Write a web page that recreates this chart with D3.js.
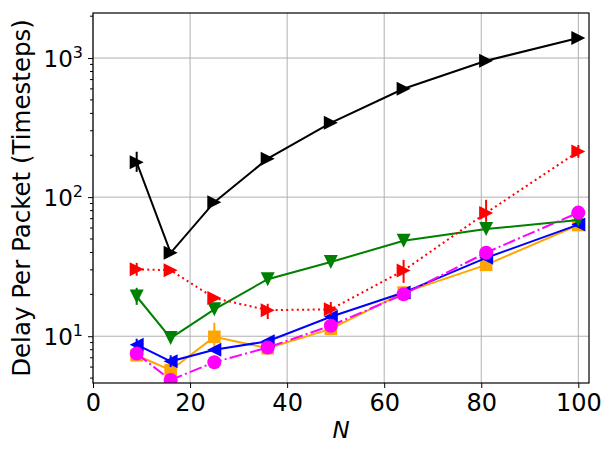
<!DOCTYPE html>
<html lang="en">
<head>
    <meta charset="UTF-8">
    <title>Delay Per Packet vs N</title>
    <script src="https://d3js.org/d3.v7.min.js"></script>
    <style>
        body { margin: 0; background: #fff; }
        text { font-family: "DejaVu Sans", sans-serif; fill: #000; }
        .grid line { stroke: #b0b0b0; stroke-width: 1; }
    </style>
</head>
<body>
    <svg id="chart" width="613" height="456"></svg>
    <script>
        // Data
        const nValues = [9, 16, 25, 36, 49, 64, 81, 100];

        const blackVals   = [178, 39.8, 92, 189, 342, 601, 956, 1393];
        const redVals     = [30.3, 29.8, 18.8, 15.4, 15.6, 29.7, 77, 213];
        const greenVals   = [19.3, 9.7, 15.6, 25.7, 34.2, 48.5, 58.9, 68.5];
        const orangeVals  = [7.3, 5.7, 9.9, 8.2, 11.3, 20.6, 32.6, 63];
        const blueVals    = [8.7, 6.6, 8.0, 9.2, 13.8, 20.6, 36.6, 63.5];
        const magentaVals = [7.5, 4.85, 6.5, 8.3, 11.9, 20.0, 39.9, 77.4];

        // error bars as [low, high], null where none visible
        const blackErr   = [[152, 212], null, null, null, null, null, null, null];
        const redErr     = [[27.2, 33.7], null, null, [13.3, 17.1], [14.2, 17.6], [24.2, 35.4], [66.4, 95.6], [192, 237]];
        const greenErr   = [[16.8, 22.3], null, null, null, null, null, null, null];
        const orangeErr  = [null, null, [7.8, 12.5], null, null, null, null, null];
        const blueErr    = [[7.9, 9.6], [6.0, 7.3], null, null, null, null, null, null];
        const magentaErr = [null, null, null, null, null, null, null, null];

        const xTicks = [0, 20, 40, 60, 80, 100];
        const yTicks = [10, 100, 1000];

        const series = [
            { vals: orangeVals,  err: orangeErr,  color: "orange",  marker: "square", dash: null },
            { vals: blueVals,    err: blueErr,    color: "blue",    marker: "left",   dash: null },
            { vals: greenVals,   err: greenErr,   color: "green",   marker: "down",   dash: null },
            { vals: redVals,     err: redErr,     color: "red",     marker: "right",  dash: "2,3.3" },
            { vals: blackVals,   err: blackErr,   color: "black",   marker: "right",  dash: null },
            { vals: magentaVals, err: magentaErr, color: "magenta", marker: "circle", dash: "12.8,3.2,2,3.2" }
        ];

        const svg = d3.select("#chart");
        const margin = { top: 13, right: 24, bottom: 73, left: 93 };
        const width = +svg.attr("width"), height = +svg.attr("height");

        const x = d3.scaleLinear().domain([0, 102.2]).range([margin.left, width - margin.right]);
        const y = d3.scaleLog().domain([4.61, 2108]).range([height - margin.bottom, margin.top]);

        // grid
        const grid = svg.append("g").attr("class", "grid");
        grid.selectAll(".gx").data(xTicks).enter().append("line")
            .attr("x1", d => x(d)).attr("x2", d => x(d))
            .attr("y1", y.range()[0]).attr("y2", y.range()[1]);
        grid.selectAll(".gy").data(yTicks).enter().append("line")
            .attr("y1", d => y(d)).attr("y2", d => y(d))
            .attr("x1", x.range()[0]).attr("x2", x.range()[1]);

        svg.append("clipPath").attr("id", "plotClip").append("rect")
            .attr("x", margin.left).attr("y", margin.top)
            .attr("width", width - margin.left - margin.right)
            .attr("height", height - margin.top - margin.bottom);

        const plot = svg.append("g").attr("clip-path", "url(#plotClip)");

        const r = 7;
        function markerPath(type) {
            if (type === "right") return `M${r},0L${-r},${-r}L${-r},${r}Z`;
            if (type === "left") return `M${-r},0L${r},${-r}L${r},${r}Z`;
            if (type === "down") return `M0,${r}L${-r},${-r}L${r},${-r}Z`;
            if (type === "square") return `M-6.3,-6.3H6.3V6.3H-6.3Z`;
            return d3.symbol(d3.symbolCircle, Math.PI * 7 * 7)();
        }

        const line = d3.line()
            .x((d, i) => x(nValues[i]))
            .y(d => y(d));

        series.forEach(s => {
            const g = plot.append("g");
            g.append("path")
                .datum(s.vals)
                .attr("d", line)
                .attr("fill", "none")
                .attr("stroke", s.color)
                .attr("stroke-width", 2)
                .attr("stroke-dasharray", s.dash);
            g.selectAll(".err")
                .data(s.err.map((e, i) => ({ e, i })).filter(d => d.e))
                .enter().append("line")
                .attr("x1", d => x(nValues[d.i])).attr("x2", d => x(nValues[d.i]))
                .attr("y1", d => y(d.e[0])).attr("y2", d => y(d.e[1]))
                .attr("stroke", s.color).attr("stroke-width", 2);
            g.selectAll(".mk")
                .data(s.vals)
                .enter().append("path")
                .attr("transform", (d, i) => `translate(${x(nValues[i])},${y(d)})`)
                .attr("d", markerPath(s.marker))
                .attr("fill", s.color);
        });

        // axes
        const xAxis = svg.append("g")
            .attr("transform", `translate(0,${height - margin.bottom})`)
            .call(d3.axisBottom(x).tickValues(xTicks).tickSize(5).tickPadding(6));
        xAxis.selectAll("text").style("font-size", "24px");

        const yAxis = svg.append("g")
            .attr("transform", `translate(${margin.left},0)`)
            .call(d3.axisLeft(y).tickValues(yTicks).tickSize(5).tickPadding(6).tickFormat(""));
        yAxis.selectAll(".tick").append("text")
            .attr("x", -10).attr("dy", "0.36em")
            .attr("text-anchor", "end")
            .style("font-size", "23px")
            .each(function (d) {
                const t = d3.select(this);
                t.append("tspan").text("10");
                t.append("tspan").attr("dy", "-0.55em").style("font-size", "16px").text(Math.round(Math.log10(d)));
            });

        // minor ticks
        const minor = [];
        [1, 10, 100, 1000].forEach(dec => {
            for (let k = 2; k <= 9; k++) {
                const v = dec * k;
                if (v > y.domain()[0] && v < y.domain()[1]) minor.push(v);
            }
        });
        yAxis.selectAll(".minor").data(minor).enter().append("line")
            .attr("x1", 0).attr("x2", -3)
            .attr("y1", d => y(d)).attr("y2", d => y(d))
            .attr("stroke", "#000");

        svg.selectAll(".domain").remove();
        svg.selectAll(".tick line").attr("stroke", "#000");

        // frame
        svg.append("rect")
            .attr("x", margin.left).attr("y", margin.top)
            .attr("width", width - margin.left - margin.right)
            .attr("height", height - margin.top - margin.bottom)
            .attr("fill", "none").attr("stroke", "#000").attr("stroke-width", 1.2);

        // labels
        svg.append("text")
            .attr("x", (x.range()[0] + x.range()[1]) / 2)
            .attr("y", 438)
            .attr("text-anchor", "middle")
            .style("font-size", "23px")
            .style("font-style", "italic")
            .text("N");

        svg.append("text")
            .attr("transform", `translate(30,${(y.range()[0] + y.range()[1]) / 2}) rotate(-90)`)
            .attr("text-anchor", "middle")
            .style("font-size", "24.5px")
            .text("Delay Per Packet (Timesteps)");
    </script>
</body>
</html>
